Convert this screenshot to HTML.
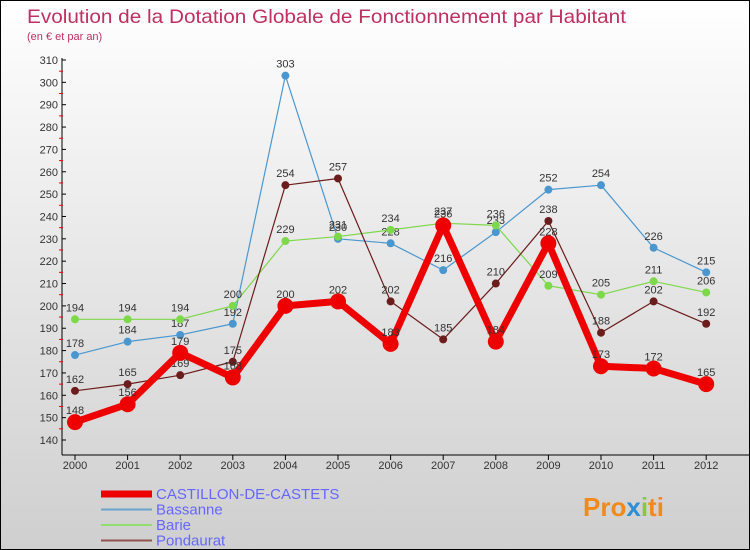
<!DOCTYPE html>
<html><head><meta charset="utf-8"><style>
body{margin:0}
#c{width:748px;height:548px;border:1px solid #000;background:linear-gradient(#fff,#e6e6e6 50%,#cfcfcf);position:relative;overflow:hidden;font-family:"Liberation Sans",sans-serif}
</style></head><body>
<div id="c">
<svg id="s" width="748" height="548" style="position:absolute;left:0;top:0" font-family="Liberation Sans, sans-serif">
<text x="26" y="22" font-size="19.5" textLength="599" lengthAdjust="spacingAndGlyphs" fill="#c0305f">Evolution de la Dotation Globale de Fonctionnement par Habitant</text>
<text x="26" y="39" font-size="11" fill="#c0305f">(en € et par an)</text>
<g id="g"></g>
</svg>
</div>
<script>
const years=[2000,2001,2002,2003,2004,2005,2006,2007,2008,2009,2010,2011,2012];
const castillon=[148,156,179,168,200,202,183,236,184,228,173,172,165];
const bassanne=[178,184,187,192,303,230,228,216,233,252,254,226,215];
const barie=[194,194,194,200,229,231,234,237,236,209,205,211,206];
const pondaurat=[162,165,169,175,254,257,202,185,210,238,188,202,192];
const yTicks=[140,150,160,170,180,190,200,210,220,230,240,250,260,270,280,290,300,310];
const NS="http://www.w3.org/2000/svg";
const g=document.getElementById('g');
const X=i=>74+i*52.6;
const Y=v=>439-(v-140)*380/170;
function mk(t,a,p){const e=document.createElementNS(NS,t);for(const k in a)e.setAttribute(k,a[k]);(p||g).appendChild(e);return e;}
let ax=mk('line',{x1:61,y1:Y(310)-2,x2:61,y2:454,stroke:'#000','stroke-width':1});


let xa=mk('line',{x1:61,y1:454,x2:748,y2:454,stroke:'#000','stroke-width':1});


yTicks.forEach(v=>{
 mk('line',{x1:61,y1:Y(v),x2:65,y2:Y(v),stroke:'#000'});
 if(v<310)mk('line',{x1:58,y1:Y(v+5),x2:62,y2:Y(v+5),stroke:'#e00'});
 const t=mk('text',{x:57,y:Y(v)+4,'font-size':11,fill:'#333','text-anchor':'end'});t.textContent=v;
 
 
});
years.forEach((y,i)=>{
 mk('line',{x1:X(i),y1:454,x2:X(i),y2:459,stroke:'#000'});
 const t=mk('text',{x:X(i),y:468,'font-size':11,fill:'#333','text-anchor':'middle'});t.textContent=y;
 
 
});
function series(d,col,w,r,name){
 const gg=mk('g',{});
 
 
 mk('polyline',{points:d.map((v,i)=>X(i)+','+Y(v)).join(' '),fill:'none',stroke:col,'stroke-width':w,'stroke-linejoin':'round'},gg);
 d.forEach((v,i)=>{
  const c=mk('circle',{cx:X(i),cy:Y(v),r:r,fill:col},gg);
  
  
  const t=mk('text',{x:X(i),y:Y(v)-8,'font-size':11,fill:'#333','text-anchor':'middle'},gg);t.textContent=v;
 });
}
series(bassanne,'#4a97cf',1.2,4,'series-bassanne');
series(barie,'#7dd84a',1.2,4,'series-barie');
series(pondaurat,'#6b1c1c',1.2,4,'series-pondaurat');
series(castillon,'#ee0000',7,8,'series-castillon');
const leg=[['CASTILLON-DE-CASTETS','#ee0000',7],['Bassanne','#6aa3cc',2],['Barie','#90dd70',2],['Pondaurat','#955050',2]];
leg.forEach((l,i)=>{
 const y=493+i*15.5;
 const gg=mk('g',{});
 
 
 mk('line',{x1:100,y1:y,x2:151,y2:y,stroke:l[1],'stroke-width':l[2]},gg);
 const t=mk('text',{x:155,y:y+5,'font-size':15,fill:'#6666ff'},gg);t.textContent=l[0];
});
const p=mk('text',{x:582,y:515,'font-size':26,'font-weight':'bold',fill:'#f08a1c'});
p.innerHTML='Pro<tspan fill="#2b8fd6">x</tspan><tspan fill="#8cc63f">i</tspan>ti';


</script>
</body></html>
